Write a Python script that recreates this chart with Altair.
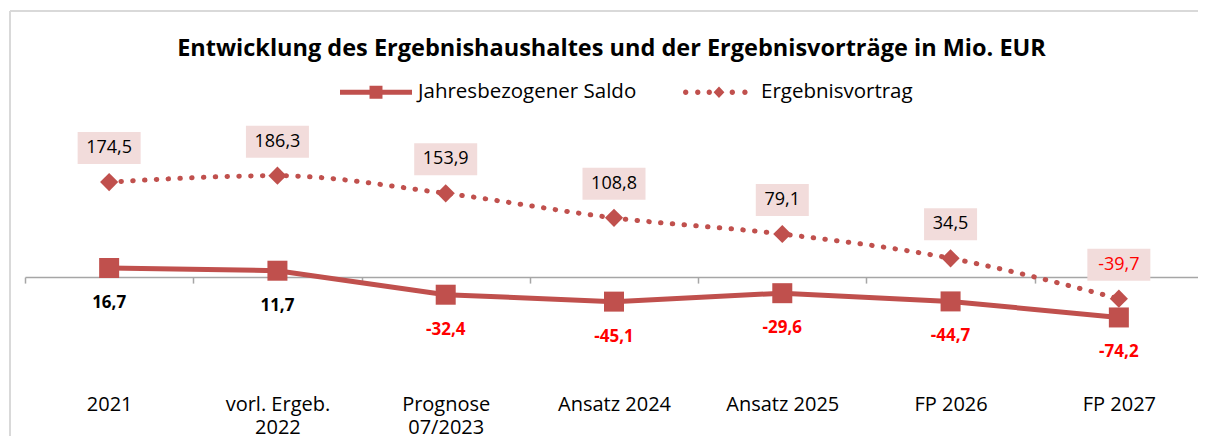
import altair as alt
import pandas as pd

# ---------------- data ----------------
categories = ["2021", "vorl. Ergeb.|2022", "Prognose|07/2023", "Ansatz 2024",
              "Ansatz 2025", "FP 2026", "FP 2027"]
saldo = [16.7, 11.7, -32.4, -45.1, -29.6, -44.7, -74.2]
vortrag = [174.5, 186.3, 153.9, 108.8, 79.1, 34.5, -39.7]
series_names = ["Jahresbezogener Saldo", "Ergebnisvortrag"]

# ---------------- style ----------------
RED = "#c0504d"
BOXFILL = "#f2dcdb"
GRAY = "#a6a6a6"
FRAME = "#d9d9d9"
FONT = "Open Sans"
W, H = 1173, 326
YMIN, YMAX = -292, 307
PX_PER_UNIT = H / (YMAX - YMIN)
AXIS_OFFSET = -H * (0 - YMIN) / (YMAX - YMIN)

d_saldo = pd.DataFrame({"cat": categories, "value": saldo})
d_vortrag = pd.DataFrame({"cat": categories, "value": vortrag})
d_legend = pd.DataFrame({"series": series_names})
d_one = pd.DataFrame({"k": [0]})

label_expr = "(datum.value < 0 ? '-' : '') + replace(format(abs(datum.value), '.1f'), '.', ',')"
color_expr = "datum.value < 0 ? '#ff0000' : '#000000'"

xenc = alt.X(
    "cat:N", sort=categories,
    scale=alt.Scale(type="band", domain=categories, range=[0, 1178],
                    paddingInner=0, paddingOuter=0),
    axis=alt.Axis(title=None, orient="bottom", offset=AXIS_OFFSET,
                  tickBand="extent", domainColor=GRAY, tickColor=GRAY,
                  domainWidth=1.5, tickWidth=1.5, tickSize=6,
                  labelPadding=111, labelFontSize=20, labelFont=FONT,
                  labelColor="#000000", labelAngle=0, labelLineHeight=23,
                  labelExpr="split(datum.label, '|')"),
)
yscale = alt.Scale(domain=[YMIN, YMAX], nice=False, zero=False)
yenc = alt.Y("value:Q", scale=yscale, axis=None)

# frame (decoration)
frame_top = alt.Chart(d_one).mark_rule(color=FRAME, strokeWidth=2).encode(
    x=alt.value(-15), x2=alt.value(1200), y=alt.value(-99))
frame_left = alt.Chart(d_one).mark_rule(color=FRAME, strokeWidth=2).encode(
    x=alt.value(-15), y=alt.value(-99), y2=alt.value(H + 20))

saldo_line = alt.Chart(d_saldo).mark_line(color=RED, strokeWidth=5).encode(x=xenc, y=yenc)
saldo_pts = alt.Chart(d_saldo).mark_point(shape="square", filled=True, size=400,
                                           color=RED, opacity=1).encode(x=xenc, y=yenc)
saldo_lbl = alt.Chart(d_saldo).transform_calculate(
    lbl=label_expr, col=color_expr
).mark_text(font=FONT, fontSize=17, fontWeight="bold", dy=35, baseline="middle").encode(
    x=xenc, y=yenc, text="lbl:N", color=alt.Color("col:N", scale=None))

vort_line = alt.Chart(d_vortrag).mark_line(color=RED, strokeWidth=5, strokeDash=[0.5, 11.3],
                                           strokeCap="round", interpolate="monotone").encode(x=xenc, y=yenc)
vort_pts = alt.Chart(d_vortrag).mark_point(shape="diamond", filled=True, size=330,
                                            color=RED, opacity=1).encode(x=xenc, y=yenc)

vort_base = alt.Chart(d_vortrag).transform_calculate(
    lbl=label_expr, col=color_expr,
    ly=f"datum.value + {34 / PX_PER_UNIT}",
).transform_calculate(
    bw="length(datum.lbl) * 10 + 13"
).transform_calculate(
    bsize="datum.bw * datum.bw",
    bpath="'M-1,-' + format(32 / datum.bw, '.4f') + 'H1V' + format(32 / datum.bw, '.4f') + 'H-1Z'",
)
vort_box = vort_base.mark_point(filled=True, color=BOXFILL, opacity=1, strokeWidth=0).encode(
    x=xenc, y=alt.Y("ly:Q", scale=yscale, axis=None),
    shape=alt.Shape("bpath:N", scale=None, legend=None),
    size=alt.Size("bsize:Q", scale=None, legend=None))
vort_lbl = vort_base.mark_text(font=FONT, fontSize=18, baseline="middle").encode(
    x=xenc, y=alt.Y("ly:Q", scale=yscale, axis=None), text="lbl:N",
    color=alt.Color("col:N", scale=None, legend=None))

# legend carrier (draws nothing itself)
path_saldo = "M-1,-0.07H-0.18V-0.18H0.18V-0.07H1V0.07H0.18V0.18H-0.18V0.07H-1Z"
def dot(cx, r=0.075):
    return f"M{cx - r:.3f},0a{r},{r} 0 1,0 {2 * r},0a{r},{r} 0 1,0 {-2 * r},0"
path_vort = "".join(dot(c) for c in [-0.925, -0.59, -0.27, 0.37, 0.72]) + \
    "M-0.15,0L0,-0.16L0.15,0L0,0.16Z"

legend_layer = alt.Chart(d_legend).transform_filter("false").mark_point(
    filled=True, color=RED, size=5184, opacity=1).encode(
    shape=alt.Shape("series:N",
                    scale=alt.Scale(domain=series_names, range=[path_saldo, path_vort]),
                    legend=alt.Legend(title=None, orient="none", legendX=315, legendY=-54,
                                      direction="horizontal", labelFont=FONT,
                                      labelFontSize=20.5, labelColor="#000000",
                                      labelLimit=500,
                                      symbolSize=5184, symbolStrokeWidth=0,
                                      symbolFillColor=RED, symbolOpacity=1,
                                      labelOffset=6, columnPadding=46, padding=0)))

chart = alt.layer(
    frame_top, frame_left, saldo_line, vort_line, saldo_pts, vort_pts,
    vort_box, vort_lbl, saldo_lbl, legend_layer
).resolve_scale(
    shape="independent", size="independent", color="independent"
).properties(
    width=W, height=H,
    title=alt.TitleParams("Entwicklung des Ergebnishaushaltes und der Ergebnisvorträge in Mio. EUR",
                          font=FONT, fontSize=23.5, fontWeight="bold", color="#000000",
                          anchor="middle", frame="group", offset=-50),
    autosize=alt.AutoSizeParams(type="none"),
    padding={"left": 17, "top": 102, "right": 0, "bottom": 0},
).configure_view(stroke=None)

chart.save("out.html", embed_options={"renderer": "svg", "actions": False})
